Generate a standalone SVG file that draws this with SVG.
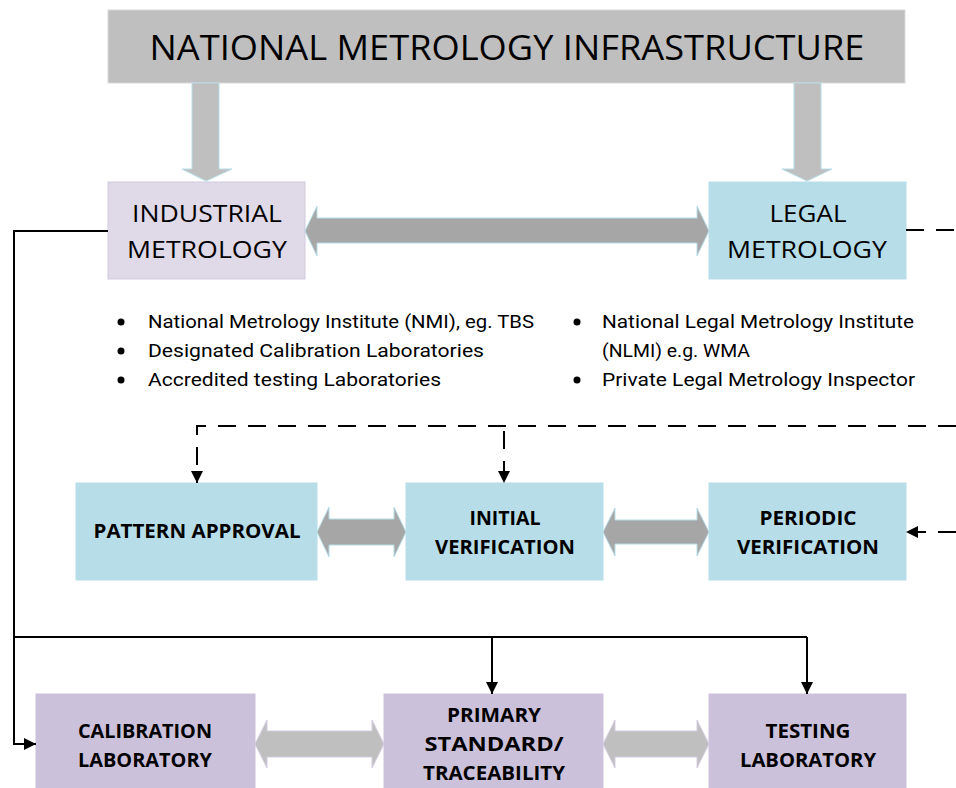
<svg xmlns="http://www.w3.org/2000/svg" width="956" height="788" viewBox="0 0 956 788">
<defs>
<marker id="ah" markerUnits="userSpaceOnUse" markerWidth="14" markerHeight="14" viewBox="0 0 14 14" refX="13" refY="7" orient="auto">
<path d="M1,1 L13,7 L1,13 Z" fill="#000"/>
</marker>
</defs>
<style>
.t{font-family:"Open Sans","Liberation Sans",sans-serif;fill:#000;text-anchor:middle}
.b{font-weight:bold;font-size:19px}
.r{font-size:24px}
.li{font-family:Roboto,"Liberation Sans",sans-serif;font-size:19px;fill:#000}
.lav{fill:#e0dae8;stroke:#d2cadf;stroke-width:1}
.blue{fill:#b7dde8;stroke:#b7dde8;stroke-width:1}
.pur{fill:#ccc1da;stroke:#ccc1da;stroke-width:1}
.ga{fill:#a6a6a6;stroke:#b7dde8;stroke-width:1}
.gb{fill:#bfbfbf;stroke:#d5cde2;stroke-width:1}
.gc{fill:#bfbfbf;stroke:#b7dde8;stroke-width:1}
.sl{fill:none;stroke:#000;stroke-width:2}
.dl{fill:none;stroke:#000;stroke-width:2;stroke-dasharray:18 12}
</style>

<g id="national">
<rect x="108" y="10" width="797" height="73" fill="#bfbfbf" stroke="#d9d9d9" stroke-width="1"/>
<text class="t" x="507" y="60" font-size="35" textLength="715" lengthAdjust="spacingAndGlyphs">NATIONAL METROLOGY INFRASTRUCTURE</text>
</g>

<g id="industrial">
<rect class="lav" x="108" y="182" width="197" height="97"/>
<text class="t r" x="207" y="222" textLength="150" lengthAdjust="spacingAndGlyphs">INDUSTRIAL</text>
<text class="t r" x="207" y="258" textLength="160" lengthAdjust="spacingAndGlyphs">METROLOGY</text>
</g>

<g id="legal">
<rect class="blue" x="709" y="182" width="197" height="97"/>
<text class="t r" x="808" y="222" textLength="77" lengthAdjust="spacingAndGlyphs">LEGAL</text>
<text class="t r" x="807" y="258" textLength="160" lengthAdjust="spacingAndGlyphs">METROLOGY</text>
</g>

<g id="industrial-list">
<circle cx="121" cy="322" r="3.5"/>
<circle cx="121" cy="351" r="3.5"/>
<circle cx="121" cy="380" r="3.5"/>
<text class="li" x="148" y="328" textLength="386" lengthAdjust="spacingAndGlyphs">National Metrology Institute (NMI), eg. TBS</text>
<text class="li" x="148" y="357" textLength="336" lengthAdjust="spacingAndGlyphs">Designated Calibration Laboratories</text>
<text class="li" x="148" y="386" textLength="293" lengthAdjust="spacingAndGlyphs">Accredited testing Laboratories</text>
</g>

<g id="legal-list">
<circle cx="577" cy="322" r="3.5"/>
<circle cx="577" cy="380" r="3.5"/>
<text class="li" x="602" y="328" textLength="312" lengthAdjust="spacingAndGlyphs">National Legal Metrology Institute</text>
<text class="li" x="602" y="357" textLength="148" lengthAdjust="spacingAndGlyphs">(NLMI) e.g. WMA</text>
<text class="li" x="602" y="386" textLength="313" lengthAdjust="spacingAndGlyphs">Private Legal Metrology Inspector</text>
</g>

<g id="pattern-approval">
<rect class="blue" x="76" y="483" width="241" height="97"/>
<text class="t b" x="197" y="538" textLength="207" lengthAdjust="spacingAndGlyphs">PATTERN APPROVAL</text>
</g>

<g id="initial-verification">
<rect class="blue" x="406" y="483" width="197" height="97"/>
<text class="t b" x="505" y="525" textLength="71" lengthAdjust="spacingAndGlyphs">INITIAL</text>
<text class="t b" x="505" y="554" textLength="140" lengthAdjust="spacingAndGlyphs">VERIFICATION</text>
</g>

<g id="periodic-verification">
<rect class="blue" x="709" y="483" width="197" height="97"/>
<text class="t b" x="808" y="525" textLength="97" lengthAdjust="spacingAndGlyphs">PERIODIC</text>
<text class="t b" x="808" y="554" textLength="142" lengthAdjust="spacingAndGlyphs">VERIFICATION</text>
</g>

<g id="calibration-laboratory">
<rect class="pur" x="36" y="694" width="219" height="100"/>
<text class="t b" x="145" y="738" textLength="134" lengthAdjust="spacingAndGlyphs">CALIBRATION</text>
<text class="t b" x="145" y="767" textLength="134" lengthAdjust="spacingAndGlyphs">LABORATORY</text>
</g>

<g id="primary-standard">
<rect class="pur" x="384" y="694" width="219" height="100"/>
<text class="t b" x="494" y="722" textLength="94" lengthAdjust="spacingAndGlyphs">PRIMARY</text>
<text class="t b" x="494" y="751" textLength="139" lengthAdjust="spacingAndGlyphs">STANDARD/</text>
<text class="t b" x="494" y="780" textLength="142" lengthAdjust="spacingAndGlyphs">TRACEABILITY</text>
</g>

<g id="testing-laboratory">
<rect class="pur" x="709" y="694" width="197" height="100"/>
<text class="t b" x="808" y="738" textLength="85" lengthAdjust="spacingAndGlyphs">TESTING</text>
<text class="t b" x="808" y="767" textLength="136" lengthAdjust="spacingAndGlyphs">LABORATORY</text>
</g>

<g id="connectors">
<!-- block arrows from top -->
<path class="gc" d="M192,83 L219,83 L219,169 L232,169 L206,181 L182,169 L192,169 Z"/>
<path class="gc" d="M794,83 L821,83 L821,169 L832,169 L807,181 L782,169 L794,169 Z"/>
<!-- double block arrows -->
<path class="ga" d="M305,231 L317,206 L317,218 L697,218 L697,206 L709,231 L697,256 L697,243 L317,243 L317,256 Z"/>
<path class="ga" d="M317,532 L329,507 L329,519 L394,519 L394,507 L406,532 L394,557 L394,545 L329,545 L329,557 Z"/>
<path class="ga" d="M603,532 L615,508 L615,520 L697,520 L697,508 L709,532 L697,556 L697,544 L615,544 L615,556 Z"/>
<path class="gb" d="M255,744 L267,720 L267,731 L372,731 L372,720 L384,744 L372,768 L372,757 L267,757 L267,768 Z"/>
<path class="gb" d="M603,744 L615,720 L615,731 L697,731 L697,720 L709,744 L697,768 L697,757 L615,757 L615,768 Z"/>
<!-- solid connectors -->
<path class="sl" d="M108,231 L14,231 L14,744 L36,744" marker-end="url(#ah)"/>
<path class="sl" d="M14,637 L807,637"/>
<path class="sl" d="M492,637 L492,694" marker-end="url(#ah)"/>
<path class="sl" d="M807,637 L807,694" marker-end="url(#ah)"/>
<!-- dashed connectors -->
<path class="dl" d="M906,230 L956,230"/>
<path class="dl" d="M956,426 L197,426 L197,483" marker-end="url(#ah)"/>
<path class="dl" d="M504,431 L504,483" marker-end="url(#ah)"/>
<path class="dl" d="M956,532 L906,532" marker-end="url(#ah)"/>
</g>
</svg>
